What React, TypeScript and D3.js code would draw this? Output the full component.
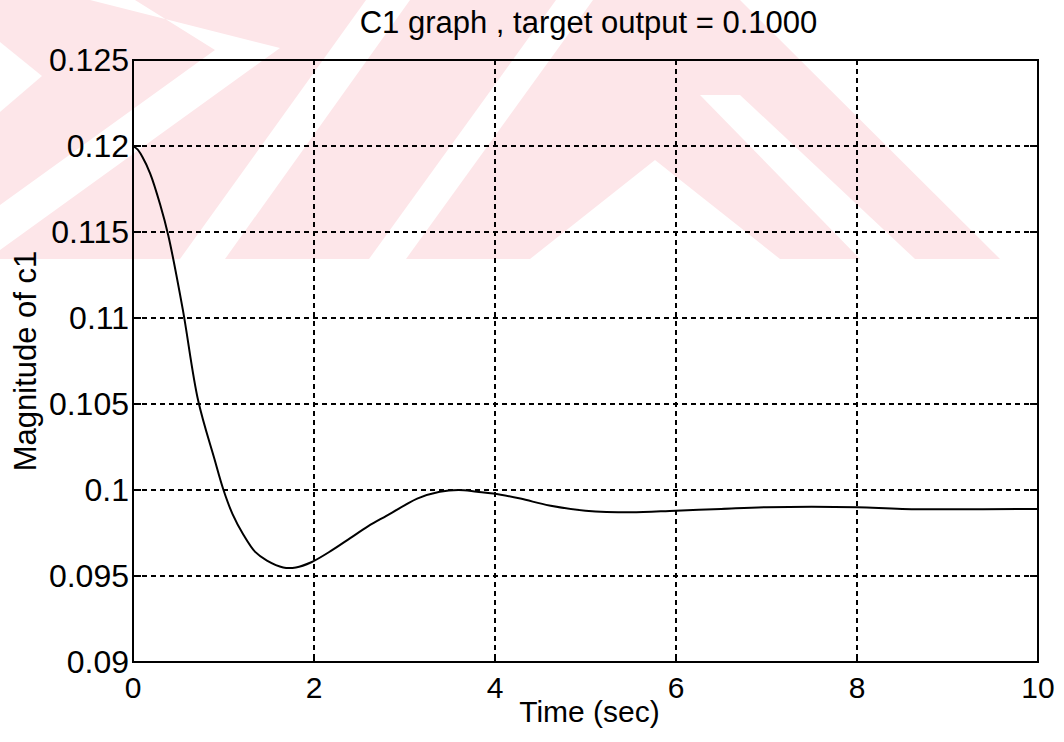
import React from "react";
import * as d3 from "d3";

const timeValues = [0, 0.05, 0.1, 0.19, 0.3, 0.39, 0.55, 0.72, 0.9, 1.0, 1.1, 1.22, 1.35, 1.48, 1.66, 1.8, 1.97, 2.2, 2.4, 2.6, 2.8, 3.0, 3.14, 3.39, 3.6, 3.8, 3.98, 4.28, 4.6, 5.0, 5.5, 6.0, 6.5, 7.0, 8.0, 8.5, 10.0];
const c1Values = [0.12, 0.1198, 0.1194, 0.1184, 0.1166, 0.1148, 0.1105, 0.1052, 0.1018, 0.1, 0.0986, 0.0974, 0.0964, 0.0959, 0.0955, 0.0955, 0.0958, 0.0965, 0.0972, 0.0979, 0.0985, 0.0991, 0.0995, 0.0999, 0.1, 0.0999, 0.0998, 0.0995, 0.0991, 0.0988, 0.0987, 0.0988, 0.0989, 0.099, 0.099, 0.0989, 0.0989];
const xTicks = [0, 2, 4, 6, 8, 10];
const yTicks = [0.09, 0.095, 0.1, 0.105, 0.11, 0.115, 0.12, 0.125];
const yTickLabels = ["0.09", "0.095", "0.1", "0.105", "0.11", "0.115", "0.12", "0.125"];
const titleText = "C1 graph , target output = 0.1000";
const xLabel = "Time (sec)";
const yLabel = "Magnitude of c1";

const W = 1064, H = 742;
const L = 133, R = 1038, T = 60, B = 662;

const pinkBand: [number, number][] = [[0, 0], [740, 0], [1000, 259], [0, 259]];
const whiteCuts: [number, number][][] = [
  [[90, 0], [135, 0], [215, 50], [0, 205], [0, 250], [280, 48]],
  [[0, 42], [42, 76], [0, 112]],
  [[180, 259], [225, 259], [410, 0], [366, 0]],
  [[369, 259], [406, 259], [593, 0], [556, 0]],
  [[530, 259], [655, 160], [780, 259]],
  [[700, 95], [740, 95], [915, 259], [860, 259]],
];

export default function App() {
  const x = d3.scaleLinear().domain([0, 10]).range([L, R]);
  const y = d3.scaleLinear().domain([0.09, 0.125]).range([B, T]);
  const pts: [number, number][] = timeValues.map((t, i) => [t, c1Values[i]]);
  const line = d3.line<[number, number]>().x(d => x(d[0])).y(d => y(d[1])).curve(d3.curveCatmullRom.alpha(0.5));
  const font = "Arial, 'Liberation Sans', sans-serif";
  const poly = (p: [number, number][]) => p.map(q => q.join(",")).join(" ");
  return (
    <svg width={W} height={H} style={{ position: "absolute", left: 0, top: 0, background: "#fff" }}>
      <rect width={W} height={H} fill="#fff" />
      <polygon points={poly(pinkBand)} fill="#fde6e9" />
      {whiteCuts.map((p, i) => (
        <polygon key={i} points={poly(p)} fill="#fff" />
      ))}
      {xTicks.slice(1, -1).map(t => (
        <line key={"gx" + t} x1={x(t)} x2={x(t)} y1={T} y2={B} stroke="#000" strokeWidth={2} strokeDasharray="5,4" />
      ))}
      {yTicks.slice(1, -1).map(t => (
        <line key={"gy" + t} x1={L} x2={R} y1={y(t)} y2={y(t)} stroke="#000" strokeWidth={2} strokeDasharray="5,4" />
      ))}
      <rect x={L} y={T} width={R - L} height={B - T} fill="none" stroke="#000" strokeWidth={2} />
      {yTicks.map(t => (
        <line key={"ty" + t} x1={L} x2={L + 8} y1={y(t)} y2={y(t)} stroke="#000" strokeWidth={2} />
      ))}
      {yTicks.map(t => (
        <line key={"ty2" + t} x1={R - 8} x2={R} y1={y(t)} y2={y(t)} stroke="#000" strokeWidth={2} />
      ))}
      {xTicks.map(t => (
        <line key={"tx" + t} x1={x(t)} x2={x(t)} y1={B - 8} y2={B} stroke="#000" strokeWidth={2} />
      ))}
      <path d={line(pts) || ""} fill="none" stroke="#000" strokeWidth={2} />
      {yTicks.map((t, i) => (
        <text key={"ly" + t} x={L - 4} y={y(t) + 11} textAnchor="end" fontFamily={font} fontSize={32} fill="#000">{yTickLabels[i]}</text>
      ))}
      {xTicks.map(t => (
        <text key={"lx" + t} x={x(t)} y={698} textAnchor="middle" fontFamily={font} fontSize={30} fill="#000">{t}</text>
      ))}
      <text x={(L + R) / 2 + 3} y={33} textAnchor="middle" fontFamily={font} fontSize={31} fill="#000">{titleText}</text>
      <text x={(L + R) / 2 + 4} y={722} textAnchor="middle" fontFamily={font} fontSize={30} fill="#000">{xLabel}</text>
      <text transform={`translate(36, ${(T + B) / 2}) rotate(-90)`} textAnchor="middle" fontFamily={font} fontSize={31} fill="#000">{yLabel}</text>
    </svg>
  );
}
